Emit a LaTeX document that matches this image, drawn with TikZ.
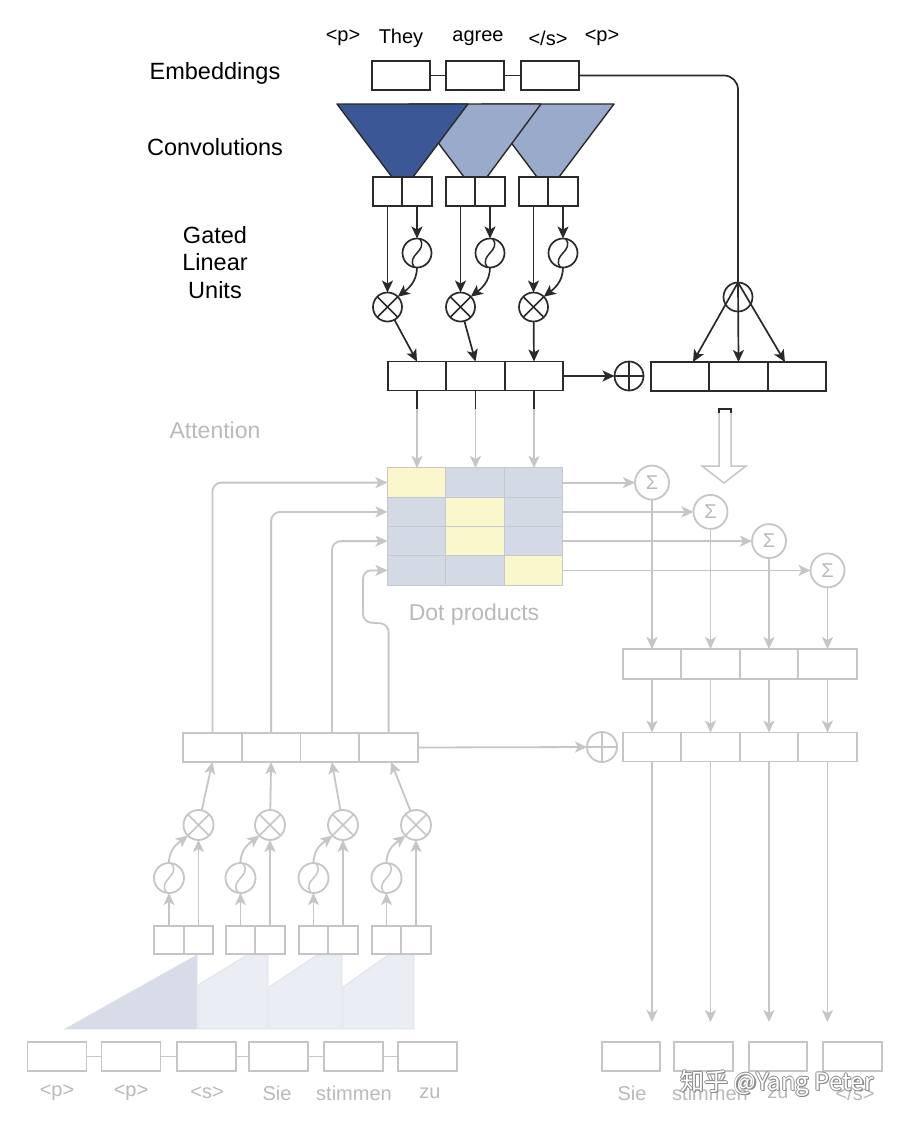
\documentclass[tikz,border=0pt]{standalone}
\usepackage{fontspec}
\setmainfont{Liberation Sans}
\newfontfamily\cjkfont{Noto Sans CJK SC}
\usetikzlibrary{arrows.meta,calc}
\definecolor{dk}{HTML}{2A2A2A}
\definecolor{lg}{HTML}{C6C6C6}
\definecolor{lgt}{HTML}{BABABA}
\definecolor{convdark}{HTML}{3B5796}
\definecolor{convlight}{HTML}{9AAACB}
\definecolor{mblue}{HTML}{D4DAE5}
\definecolor{myel}{HTML}{FAF7CD}
\definecolor{mgrid}{HTML}{C4C8CF}
\definecolor{wedgeA}{HTML}{D7DCE8}
\definecolor{wedgeB}{HTML}{EAEDF4}
\definecolor{wedgeE}{HTML}{DDE1E9}
\begin{document}
\begin{tikzpicture}[x=1pt,y=-1pt,
  arr/.style={-{Stealth[length=12pt,width=11pt,inset=3pt]}},
  dl/.style={draw=dk,line width=1.7pt},
  gl/.style={draw=lg,line width=1.8pt},
  dbox/.style={rectangle,draw=dk,line width=1.7pt,inner sep=0pt,outer sep=0pt,minimum height=29pt,minimum width=#1},
  gbox/.style={rectangle,draw=lg,line width=1.8pt,inner sep=0pt,outer sep=0pt,minimum height=29pt,minimum width=#1},
  dcirc/.style={circle,draw=dk,line width=1.7pt,inner sep=0pt,outer sep=0pt,minimum size=29pt},
  gcirc/.style={circle,draw=lg,line width=1.8pt,inner sep=0pt,outer sep=0pt,minimum size=30pt},
  xsym/.style={path picture={\draw[line width=1.6pt,draw=#1] (path picture bounding box.north west)--(path picture bounding box.south east) (path picture bounding box.north east)--(path picture bounding box.south west);}},
  psym/.style={path picture={\draw[line width=1.6pt,draw=#1] (path picture bounding box.north)--(path picture bounding box.south) (path picture bounding box.east)--(path picture bounding box.west);}},
  ssym/.style={path picture={\draw[line width=1.5pt,draw=#1] ($(path picture bounding box.center)+(-2,15)$) .. controls ($(path picture bounding box.center)+(-13,2)$) and ($(path picture bounding box.center)+(13,-2)$) .. ($(path picture bounding box.center)+(2,-15)$);}},
  mcell/.style={rectangle,draw=mgrid,line width=1pt,inner sep=0pt,outer sep=0pt,minimum width=58.3pt,minimum height=29.25pt,fill=#1},
  lbl/.style={font=\fontsize{20}{27.5}\selectfont,text=black,inner sep=0pt},
  slbl/.style={font=\fontsize{23.5}{27.5}\selectfont,text=black,inner sep=0pt},
  glbl/.style={font=\fontsize{23}{26}\selectfont,text=lgt,inner sep=0pt},
  wlbl/.style={font=\fontsize{20}{23}\selectfont,text=lgt,inner sep=0pt},
  sig/.style={gcirc,minimum size=34pt,font=\fontsize{20}{22}\selectfont,text=lgt},
]
\useasboundingbox (0,0) rectangle (912,1125);
\fill[white] (0,0) rectangle (912,1125);

% ---------------- top (encoder) ----------------
\node[lbl] (w1) at (343,38) {<p>};
\node[lbl] (w2) at (401,38) {They};
\node[lbl] (w3) at (478,38) {agree};
\node[lbl] (w4) at (548,38) {</s>};
\node[lbl] (w5) at (602,38) {<p>};

\node[slbl] (lemb) at (215,73) {Embeddings};
\node[slbl] (lconv) at (215,147) {Convolutions};
\node[slbl,align=center] (lglu) at (215,262.5) {Gated\\Linear\\Units};

\node[dbox=58pt] (e1) at (401,75.5) {};
\node[dbox=58pt] (e2) at (475,75.5) {};
\node[dbox=58pt] (e3) at (550,75.5) {};
\draw[dl] (e1.east) -- (e2.west);
\draw[dl] (e2.east) -- (e3.west);

% convolution trapezoids
\filldraw[fill=convlight,draw=dk,line width=1.4pt,line join=round] (482,104)--(614,104)--(559,177)--(537,177)--cycle;
\filldraw[fill=convlight,draw=dk,line width=1.4pt,line join=round] (409,104)--(541,104)--(487,177)--(464,177)--cycle;
\filldraw[fill=convdark,draw=dk,line width=1.4pt,line join=round] (337,104)--(468,104)--(413,177)--(392,177)--cycle;

\node[dbox=29.5pt] (c1a) at (387.5,191.5) {};
\node[dbox=29.5pt] (c1b) at (417,191.5) {};
\node[dbox=29.5pt] (c2a) at (460.5,191.5) {};
\node[dbox=29.5pt] (c2b) at (490,191.5) {};
\node[dbox=29.5pt] (c3a) at (533.5,191.5) {};
\node[dbox=29.5pt] (c3b) at (563,191.5) {};

\node[dcirc,ssym=dk] (sg1) at (417,253) {};
\node[dcirc,ssym=dk] (sg2) at (490,253) {};
\node[dcirc,ssym=dk] (sg3) at (563,253) {};
\node[dcirc,xsym=dk] (ot1) at (387.5,307) {};
\node[dcirc,xsym=dk] (ot2) at (460.5,307) {};
\node[dcirc,xsym=dk] (ot3) at (533.5,307) {};

\node[dbox=58.5pt] (g1) at (417,376) {};
\node[dbox=58.5pt] (g2) at (475.5,376) {};
\node[dbox=58.5pt] (g3) at (534,376) {};

\foreach \i in {1,2,3}{
  \draw[dl,arr] (c\i b.south) -- (sg\i.north);
  \draw[dl,arr] (c\i a.south) -- (ot\i.north);
  \draw[dl,arr] (sg\i.south) .. controls +(0,15) and +(9,-7) .. (ot\i.north east);
}
\draw[dl,arr] (ot1) -- (g1.north);
\draw[dl,arr] (ot2) -- (g2.north);
\draw[dl,arr] (ot3) -- (g3.north);

\node[dcirc,psym=dk] (op1) at (629,376) {};
\draw[dl,arr] (g3.east) -- (op1.west);

\node[dbox=58.5pt] (r1) at (680,376.5) {};
\node[dbox=58.5pt] (r2) at (738.5,376.5) {};
\node[dbox=58.5pt] (r3) at (797,376.5) {};

\node[dcirc] (att) at (738,297) {};
\draw[dl,rounded corners=14pt] (e3.east) -| (att.north);
\draw[dl,arr] (att.north) -- ($(r1.north)+(13,0)$);
\draw[dl,arr] (att.north) -- (r2.north);
\draw[dl,arr] (att.north) -- ($(r3.north)+(-12,0)$);

% ---------------- attention (faded) ----------------
\node[glbl] (latt) at (215,430) {Attention};

\foreach \r/\y/\ca/\cb/\cc in {1/482.6/myel/mblue/mblue,2/511.9/mblue/myel/mblue,3/541.1/mblue/myel/mblue,4/570.4/mblue/mblue/myel}{
  \node[mcell=\ca] (m\r1) at (416.6,\y) {};
  \node[mcell=\cb] (m\r2) at (474.9,\y) {};
  \node[mcell=\cc] (m\r3) at (533.2,\y) {};
}
\node[glbl] (ldot) at (474,615) {Dot products};

\draw[gl,arr] (g1.south) -- (g1.south |- m11.north);
\draw[gl,arr] (g2.south) -- (g2.south |- m12.north);
\draw[gl,arr] (g3.south) -- (g3.south |- m13.north);
\draw[dl] (g1.south) -- ++(0,18);
\draw[dl] (g2.south) -- ++(0,18);
\draw[dl] (g3.south) -- ++(0,18);

% hollow arrow
\draw[draw=lg,line width=1.5pt,line join=miter] (719,411) -- (719,466) -- (702,466) -- (724,483) -- (746,466) -- (731,466) -- (731,411);
\draw[dl] (719,413) -- (719,409) -- (731,409) -- (731,413);

% sigma circles
\node[sig] (s1) at (652,482.6) {Σ};
\node[sig] (s2) at (710.5,511.9) {Σ};
\node[sig] (s3) at (769,541.1) {Σ};
\node[sig] (s4) at (827.5,570.4) {Σ};
\draw[gl,arr] (m13.east) -- (s1.west);
\draw[gl,arr] (m23.east) -- (s2.west);
\draw[gl,arr] (m33.east) -- (s3.west);
\draw[gl,arr] (m43.east) -- (s4.west);

\foreach \i/\x in {1/652,2/710.5,3/769,4/827.5}{
  \node[gbox=58.5pt,minimum height=30pt] (o\i) at (\x,664) {};
  \node[gbox=58.5pt] (p\i) at (\x,747) {};
}
\foreach \i in {1,2,3,4}{
  \draw[gl,arr] (s\i.south) -- (o\i.north);
  \draw[gl,arr] (o\i.south) -- (p\i.north);
}

% final output boxes
\node[gbox=58.5pt] (f1) at (631,1056.5) {};
\node[gbox=58.5pt] (f2) at (703.5,1056.5) {};
\node[gbox=58.5pt] (f3) at (778,1056.5) {};
\node[gbox=58.5pt] (f4) at (852.5,1056.5) {};
\foreach \i in {1,2,3,4}{
  \draw[gl,arr,shorten >=20pt] (p\i.south) -- (p\i.south |- f\i.north);
}
\node[wlbl] (t1) at (632,1093) {Sie};
\node[wlbl] (t2) at (710,1093) {stimmen};
\node[wlbl] (t3) at (778,1093) {zu};
\node[wlbl] (t4) at (855,1093) {</s>};

% ---------------- decoder (faded) ----------------
\node[gbox=58.75pt] (d1) at (212.4,747.5) {};
\node[gbox=58.75pt] (d2) at (271.1,747.5) {};
\node[gbox=58.75pt] (d3) at (329.9,747.5) {};
\node[gbox=58.75pt] (d4) at (388.6,747.5) {};

\node[gcirc,psym=lg] (op2) at (602,747) {};
\draw[gl,arr] (d4.east) -- (op2.west);

\draw[gl,arr,rounded corners=9pt] (d1.north) |- (m11.west);
\draw[gl,arr,rounded corners=9pt] (d2.north) |- (m21.west);
\draw[gl,arr,rounded corners=9pt] ($(d3.north)+(2,0)$) |- (m31.west);
\draw[gl,arr,rounded corners=8pt] (d4.north) -- (388.6,624) -- (363,622) -- (363,570.4) -- (m41.west);

% wedges
\filldraw[fill=wedgeA,draw=wedgeE,line width=0.8pt] (65,1029) -- (197,955) -- (197,1029) -- cycle;
\filldraw[fill=wedgeB,draw=wedgeE,line width=0.8pt] (198,985) -- (247,955) -- (268,955) -- (268,1029) -- (198,1029) -- cycle;
\filldraw[fill=wedgeB,draw=wedgeE,line width=0.8pt] (269,987) -- (317,955) -- (342,955) -- (342,1029) -- (269,1029) -- cycle;
\filldraw[fill=wedgeB,draw=wedgeE,line width=0.8pt] (343,987) -- (388,955) -- (414,955) -- (414,1029) -- (343,1029) -- cycle;

\foreach \i/\xa/\xb in {1/169/198.5,2/240.5/270,3/313.5/343,4/386.5/416}{
  \node[gbox=29.5pt,minimum height=28pt] (h\i a) at (\xa,940) {};
  \node[gbox=29.5pt,minimum height=28pt] (h\i b) at (\xb,940) {};
  \node[gcirc,ssym=lg] (q\i) at (\xa,878) {};
  \node[gcirc,xsym=lg] (x\i) at (\xb,825) {};
  \draw[gl,arr] (h\i a.north) -- (q\i.south);
  \draw[gl,arr] (h\i b.north) -- (x\i.south);
  \draw[gl,arr] (q\i.north) .. controls +(0,-15) and +(-9,7) .. (x\i.south west);
}
\draw[gl,arr] (x1) -- (d1.south);
\draw[gl,arr] (x2) -- (d2.south);
\draw[gl,arr] (x3) -- ($(d3.south)+(2,0)$);
\draw[gl,arr] (x4) -- ($(d4.south)+(2.5,0)$);

% bottom embeddings
\foreach \i/\x in {1/57,2/131,3/206.5,4/278.5,5/353.5,6/427.5}{
  \node[gbox=59pt] (b\i) at (\x,1056.5) {};
}
\foreach \i/\j in {1/2,2/3,3/4,4/5,5/6}{
  \draw[gl] (b\i.east) -- (b\j.west);
}
\node[wlbl] (u1) at (57,1093) {<p>};
\node[wlbl] (u2) at (131,1093) {<p>};
\node[wlbl] (u3) at (207,1093) {<s>};
\node[wlbl] (u4) at (277,1093) {Sie};
\node[wlbl] (u5) at (354,1093) {stimmen};
\node[wlbl] (u6) at (430,1093) {zu};

% watermark
\foreach \k/\dx/\dy in {1/-0.9/0,2/0.9/0,3/0/-0.9,4/0/0.9,5/1.2/1.2}{
  \node[font=\cjkfont\fontsize{24}{28}\selectfont,text=black!45,inner sep=0pt] (wms\k) at (777+\dx,1083+\dy) {知乎 @Yang Peter};
}
\node[font=\cjkfont\fontsize{24}{28}\selectfont,text=white,inner sep=0pt] (wm) at (777,1083) {知乎 @Yang Peter};
\end{tikzpicture}
\end{document}
